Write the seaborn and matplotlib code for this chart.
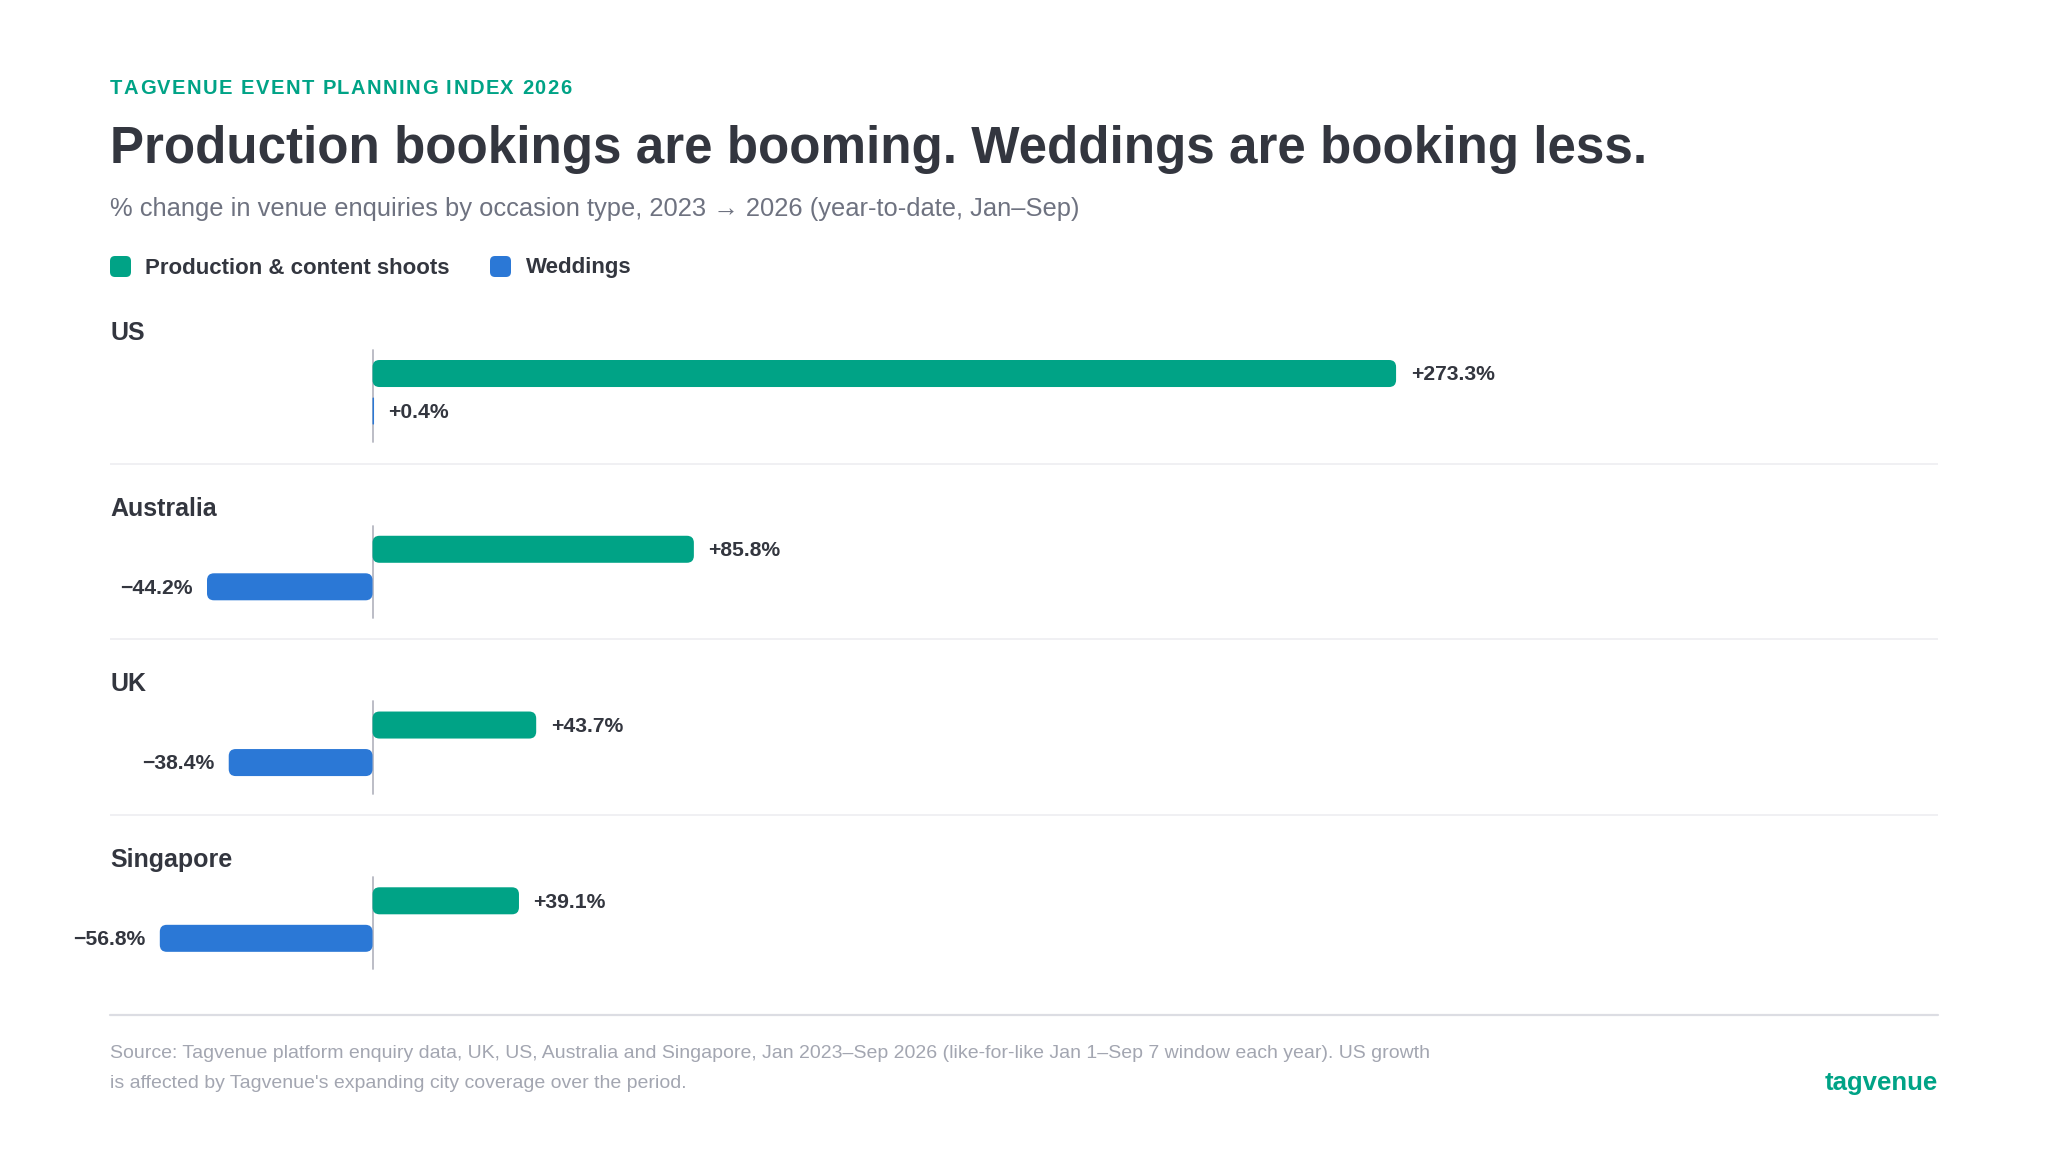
import matplotlib
matplotlib.use("Agg")
import matplotlib.pyplot as plt
import matplotlib.transforms as mtransforms
import pandas as pd
import seaborn as sns
from matplotlib.patches import FancyBboxPatch
from matplotlib.lines import Line2D

# data
countries = ["US", "Australia", "UK", "Singapore"]
series = ["Production & content shoots", "Weddings"]
production = [273.3, 85.8, 43.7, 39.1]
weddings = [0.4, -44.2, -38.4, -56.8]

GREEN = "#00A386"
BLUE = "#2B78D6"
DARK = "#33363F"
MUTED = "#6E7280"
LIGHT = "#A3A6B1"

W, H = 2048, 1152
XMIN, XMAX = -70.1, 418.0
YMIN, YMAX = -0.525, 3.543
BAR_W = 0.427

sns.set_theme(style="white")
plt.rcParams["font.family"] = ["Liberation Sans", "DejaVu Sans"]

fig = plt.figure(figsize=(W / 100, H / 100), dpi=100)
fig.patch.set_facecolor("white")


def fx(x):
    return x / W


def fy(y):
    return 1 - y / H


ax = fig.add_axes([fx(110), fy(1015), (1938 - 110) / W, (1015 - 300) / H])

df = pd.DataFrame({
    "country": countries * 2,
    "type": [series[0]] * len(countries) + [series[1]] * len(countries),
    "value": production + weddings,
})

sns.barplot(data=df, y="country", x="value", hue="type", order=countries,
            hue_order=series, palette=[GREEN, BLUE], saturation=1, orient="h",
            width=BAR_W, gap=0.28, errorbar=None, legend=False, ax=ax)

ax.set_xlim(XMIN, XMAX)
ax.set_ylim(YMAX, YMIN)
ax.axis("off")

# round the bar corners
xppu = (1938 - 110) / (XMAX - XMIN)
yppu = (1015 - 300) / (YMAX - YMIN)
for p in list(ax.patches):
    x, y, w, h = p.get_x(), p.get_y(), p.get_width(), p.get_height()
    x0, w = min(x, x + w), abs(w)
    y0, h = min(y, y + h), abs(h)
    r = min(7, w * xppu / 2, h * yppu / 2)
    fc = p.get_facecolor()
    p.remove()
    ax.add_patch(FancyBboxPatch((x0, y0), w, h,
                                boxstyle=f"round,pad=0,rounding_size={r / xppu}",
                                mutation_aspect=xppu / yppu,
                                facecolor=fc, edgecolor="none", zorder=3))

blend = mtransforms.blended_transform_factory(ax.transAxes, ax.transData)
for i, c in enumerate(countries):
    ax.plot([0, 0], [i - 0.241, i + 0.283], color="#B6B8C2", lw=1.3, zorder=2)
    ax.text(0, i - 0.338, c, transform=blend, fontsize=18, fontweight="bold",
            color=DARK, va="center", ha="left")
    for v, off in [(production[i], -BAR_W / 4), (weddings[i], BAR_W / 4)]:
        lab = f"{v:+.1f}%".replace("-", "\u2212")
        ax.annotate(lab, xy=(v, i + off + 0.008), xytext=(10.5 if v >= 0 else -10.5, 0),
                    textcoords="offset points", ha="left" if v >= 0 else "right",
                    va="center", fontsize=15.2, fontweight="bold", color=DARK)
    if i < len(countries) - 1:
        ax.axhline(i + 0.406, color="#EFEFF2", lw=1.3, zorder=1)

fig.add_artist(Line2D([fx(110), fx(1938)], [fy(1015), fy(1015)],
                      transform=fig.transFigure, color="#DCDDE3", lw=1.6))

# header: eyebrow with letter spacing
renderer = fig.canvas.get_renderer()
xpos = 110
for ch in "TAGVENUE EVENT PLANNING INDEX 2026":
    t = fig.text(fx(xpos), fy(88), ch, fontsize=14.5, fontweight="bold",
                 color=GREEN, va="center", ha="left")
    xpos += t.get_window_extent(renderer).width + 1.42
fig.text(fx(110), fy(149), "Production bookings are booming. Weddings are booking less.",
         fontsize=36.85, fontweight="bold", color=DARK, va="center", ha="left")
fig.text(fx(110), fy(209),
         "% change in venue enquiries by occasion type, 2023 \u2192 2026 (year-to-date, Jan\u2013Sep)",
         fontsize=18.4, color=MUTED, va="center", ha="left")

# legend
ident = mtransforms.IdentityTransform()
for sx, tx, name, col in [(110, 145, series[0], GREEN), (490, 526, series[1], BLUE)]:
    fig.add_artist(FancyBboxPatch((sx, H - 277), 21, 21,
                                  boxstyle="round,pad=0,rounding_size=5",
                                  transform=ident, facecolor=col, edgecolor="none"))
    fig.text(fx(tx), fy(268), name, fontsize=16, fontweight="bold", color=DARK,
             va="center", ha="left")

# footer
fig.text(fx(110), fy(1054),
         "Source: Tagvenue platform enquiry data, UK, US, Australia and Singapore, Jan 2023\u2013Sep 2026 "
         "(like-for-like Jan 1\u2013Sep 7 window each year). US growth",
         fontsize=14.0, color=LIGHT, va="center", ha="left")
fig.text(fx(110), fy(1083),
         "is affected by Tagvenue's expanding city coverage over the period.",
         fontsize=14.0, color=LIGHT, va="center", ha="left")
fig.text(fx(1938), fy(1083), "tagvenue", fontsize=18.5, fontweight="bold",
         color=GREEN, va="center", ha="right")

fig.savefig("out.png", dpi=100, facecolor="white")
